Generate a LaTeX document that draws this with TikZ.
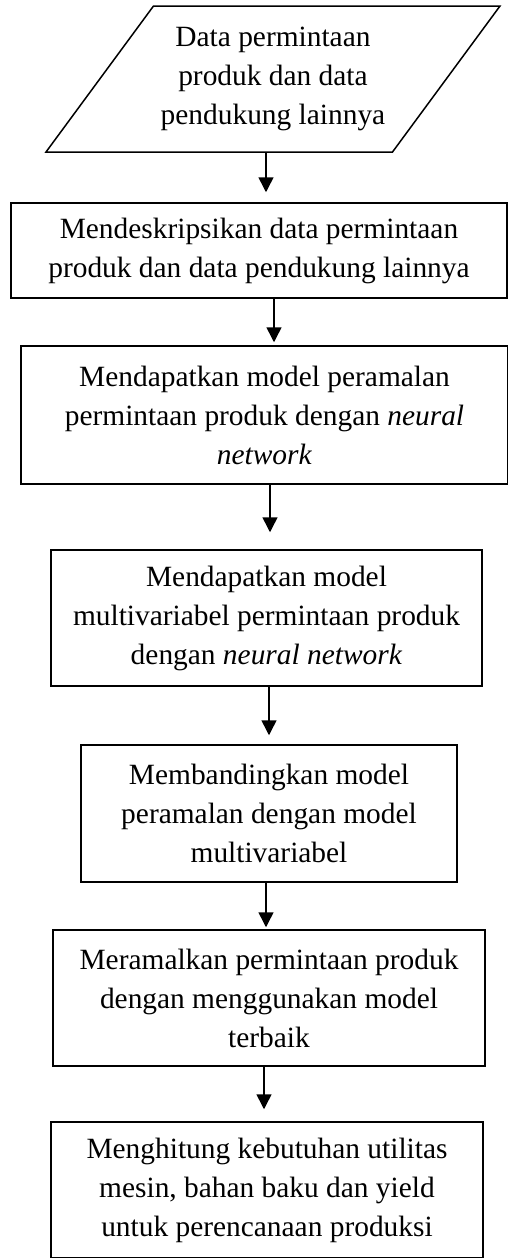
\documentclass[tikz,border=0pt]{standalone}
\usepackage{fontspec}
\setmainfont{Liberation Serif}
\usetikzlibrary{shapes.geometric,arrows.meta}
\begin{document}
\begin{tikzpicture}[x=1pt,y=-1pt]
		\tikzstyle{every node}+=[inner sep=0pt, align=center, font=\fontsize{29.4}{39}\selectfont]
		\tikzstyle{stepbox}=[draw=black, line width=1.5pt, rectangle]
		\tikzstyle{flow}=[draw=black, line width=1.5pt, -{Triangle[length=15pt,width=15pt]}]
		\useasboundingbox (0,0) rectangle (508,1258);
		\fill [white] (0,0) rectangle (508,1258);
		% input data
		\node [draw=black, line width=1.5pt, trapezium, trapezium left angle=44, trapezium right angle=136, trapezium stretches body, minimum width=454pt, minimum height=146pt] (in) at (273,79) {Data permintaan\\produk dan data\\pendukung lainnya};
		% process steps
		\node [stepbox, minimum width=496pt, minimum height=95pt] (desc) at (259,250.5) {Mendeskripsikan data permintaan\\produk dan data pendukung lainnya};
		\node [stepbox, minimum width=487pt, minimum height=138pt] (nn) at (264.5,415) {Mendapatkan model peramalan\\permintaan produk dengan \textit{neural}\\\textit{network}};
		\node [stepbox, minimum width=431pt, minimum height=136pt] (mv) at (266.5,618) {Mendapatkan model\\multivariabel permintaan produk\\dengan \textit{neural network}};
		\node [stepbox, minimum width=376pt, minimum height=137pt] (cmp) at (269,813.5) {Membandingkan model\\peramalan dengan model\\multivariabel};
		\node [stepbox, minimum width=432pt, minimum height=136pt] (fc) at (269,998) {Meramalkan permintaan produk\\dengan menggunakan model\\terbaik};
		\node [stepbox, minimum width=432pt, minimum height=136pt] (calc) at (267,1190) {Menghitung kebutuhan utilitas\\mesin, bahan baku dan yield\\untuk perencanaan produksi};
		% arrows
		\draw [flow, shorten >=10pt] (in.south -| 266,0) -- (desc.north -| 266,0);
		\draw [flow, shorten >=3pt] (desc.south -| 274,0) -- (nn.north -| 274,0);
		\draw [flow, shorten >=17pt] (nn.south -| 270,0) -- (mv.north -| 270,0);
		\draw [flow, shorten >=9pt] (mv.south -| 269,0) -- (cmp.north -| 269,0);
		\draw [flow, shorten >=2pt] (cmp.south -| 266,0) -- (fc.north -| 266,0);
		\draw [flow, shorten >=12pt] (fc.south -| 264,0) -- (calc.north -| 264,0);
	\end{tikzpicture}
\end{document}
